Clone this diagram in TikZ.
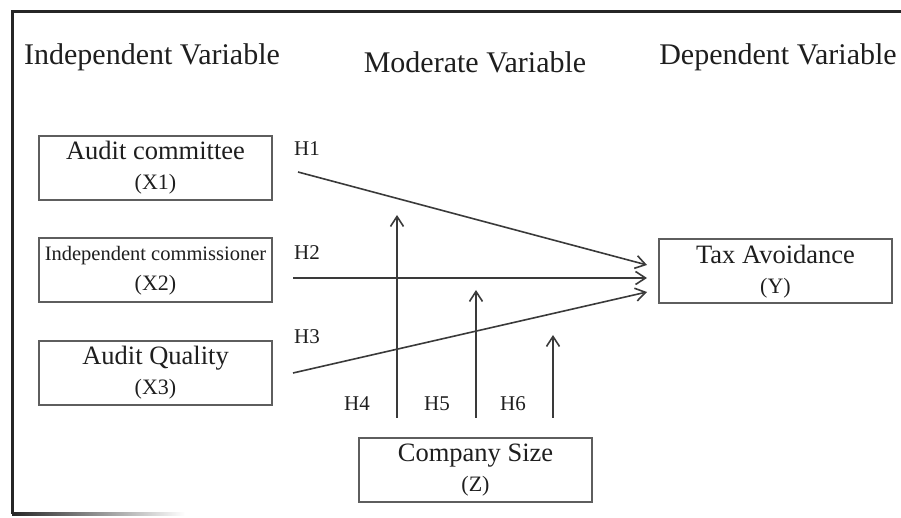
\documentclass[tikz,border=0pt]{standalone}
\usepackage{fontspec}
\setmainfont{Liberation Serif}
\usepackage{xcolor}
\usetikzlibrary{positioning,arrows.meta}

\definecolor{boxgray}{HTML}{5E5E5E}
\definecolor{linegray}{HTML}{3A3A3A}
\definecolor{textgray}{HTML}{1E1E1E}

\tikzset{
  varbox/.style={draw=boxgray, line width=1pt, minimum width=116.5pt, minimum height=32pt,
    inner sep=0pt, align=center, text=textgray, font=\fontsize{13.25}{14}\selectfont},
  head/.style={inner sep=0pt, text=textgray, font=\fontsize{15}{18}\selectfont},
  hyp/.style={inner sep=0pt, text=textgray, font=\fontsize{10.5}{12}\selectfont},
  link/.style={draw=linegray, line width=0.8pt, -{Straight Barb[length=5pt,width=6.5pt]}},
}
\newcommand{\sublabel}[1]{\\[1pt]{\fontsize{11}{13}\selectfont #1}}

\begin{document}
\begin{tikzpicture}[x=0.5pt,y=-0.5pt, node distance=18.25pt]
    \useasboundingbox (0,0) rectangle (901,518);
    % frame
    \draw[line width=1.5pt, black!85] (12,514) -- (12,12) -- (901,12);
    \shade[left color=black!85, right color=white] (12,512.5) rectangle (185,515.5);

    % column titles
    \node[head] (indep) at (152,57) {Independent Variable};
    \node[head] (moder) at (475,62) {Moderate Variable};
    \node[head] (dep) at (778,57) {Dependent Variable};

    % variables
    \node[varbox] (x1) at (155.5,168) {Audit committee\sublabel{(X1)}};
    \node[varbox, below=of x1] (x2) {{\fontsize{10.25}{12}\selectfont Independent commissioner}\sublabel{(X2)}};
    \node[varbox, below=of x2] (x3) {Audit Quality\sublabel{(X3)}};
    \node[varbox] (y) at (775.5,271.5) {Tax Avoidance\sublabel{(Y)}};
    \node[varbox] (z) at (475.5,470) {Company Size\sublabel{(Z)}};

    % direct effects
    \draw[link] ([xshift=12.5pt,yshift=-2pt]x1.east) -- ([xshift=-5.5pt,yshift=3.25pt]y.west);
    \draw[link] ([xshift=10pt,yshift=-3.75pt]x2.east) -- ([xshift=-5.5pt,yshift=-3.25pt]y.west);
    \draw[link] ([xshift=10pt]x3.east) -- ([xshift=-5.5pt,yshift=-10.25pt]y.west);

    % moderation
    \draw[link] ([xshift=-39.25pt,yshift=9.5pt]z.north) -- ([xshift=-39.25pt,yshift=111pt]z.north);
    \draw[link] ([xshift=0.25pt,yshift=9.5pt]z.north) -- ([xshift=0.25pt,yshift=73.5pt]z.north);
    \draw[link] ([xshift=38.75pt,yshift=9.5pt]z.north) -- ([xshift=38.75pt,yshift=51pt]z.north);

    % hypotheses
    \node[hyp] (h1) at (307,149) {H1};
    \node[hyp] (h2) at (307,253) {H2};
    \node[hyp] (h3) at (307,337) {H3};
    \node[hyp] (h4) at (357,404) {H4};
    \node[hyp] (h5) at (437,404) {H5};
    \node[hyp] (h6) at (513,404) {H6};
\end{tikzpicture}
\end{document}
